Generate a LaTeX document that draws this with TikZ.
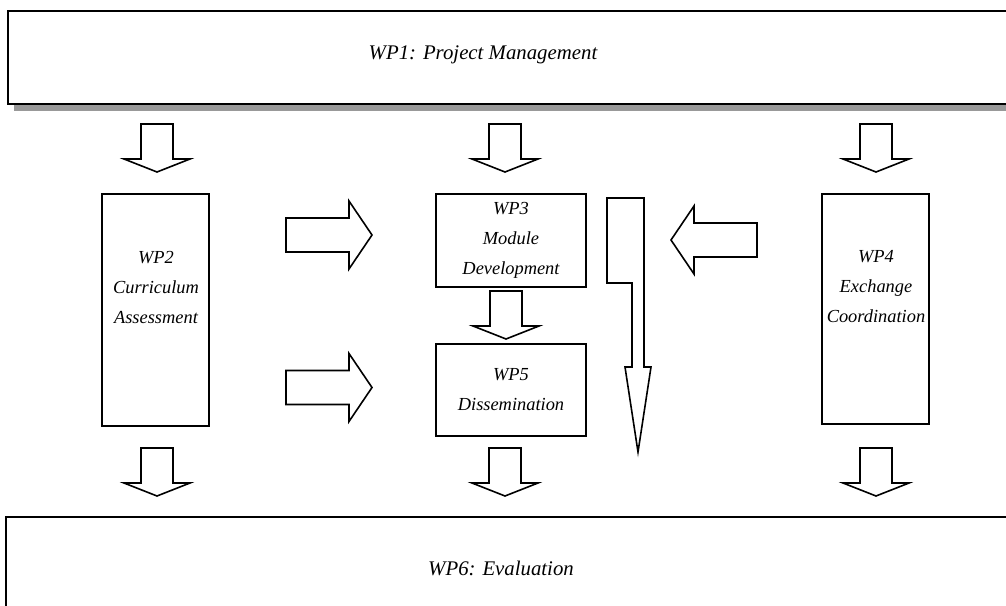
\documentclass[tikz,border=0pt]{standalone}
\usepackage{fontspec}
\setmainfont{Liberation Serif}
\tikzset{
  wpbox/.style={draw, line width=0.8pt, fill=white, inner sep=0pt},
  wptext/.style={font=\fontsize{9.2}{15}\selectfont\itshape, align=center, inner sep=0pt},
  bigtext/.style={font=\fontsize{10.4}{12}\selectfont\itshape, inner sep=0pt},
  blk/.style={draw, line width=0.8pt, line join=miter, fill=white},
  downblk/.pic={\draw[blk] (-16,0) -- (16,0) -- (16,35) -- (33,35) -- (0,48) -- (-33,35) -- (-16,35) -- cycle;},
  rightblk/.pic={\draw[blk] (0,-17) -- (63,-17) -- (63,-34) -- (86,0) -- (63,34) -- (63,17) -- (0,17) -- cycle;}
}
\begin{document}
\begin{tikzpicture}[x=0.5pt, y=-0.5pt]
\useasboundingbox (0,0) rectangle (1006,605);
% top and bottom work packages
\fill[black!40] (14,18) rectangle (1020,111);
\node[wpbox, minimum width=503pt, minimum height=46.5pt] (wp1) at (511,57.5) {};
\node[bigtext] (wp1t) at (483,55) {WP1: Project Management};
\node[wpbox, minimum width=503pt, minimum height=50pt] (wp6) at (509,567) {};
\node[bigtext] (wp6t) at (501,568) {WP6: Evaluation};
% middle work packages
\node[wpbox, minimum width=53.5pt, minimum height=116pt] (wp2) at (155.5,310) {};
\node[wptext] (wp2t) at (156,287) {WP2\\Curriculum\\Assessment};
\node[wpbox, minimum width=53.5pt, minimum height=115pt] (wp4) at (875.5,309) {};
\node[wptext] (wp4t) at (876,287) {WP4\\Exchange\\Coordination};
\node[wpbox, minimum width=75pt, minimum height=46.5pt, wptext] (wp3) at (511,240.5) {WP3\\Module\\Development};
\node[wpbox, minimum width=75pt, minimum height=46pt, wptext] (wp5) at (511,390) {WP5\\Dissemination};
% block arrows
\foreach \x in {157,505,876} {
  \pic at (\x,124) {downblk};
  \pic at (\x,448) {downblk};
}
\pic at (506,291) {downblk};
\pic at (286,235) {rightblk};
\pic at (286,387.5) {rightblk};
\pic[rotate=180] at (757,240) {rightblk};
\draw[blk] (607,198) -- (644,198) -- (644,367) -- (651,367) -- (638,452) -- (625,367) -- (632,367) -- (632,283) -- (607,283) -- cycle;
\end{tikzpicture}
\end{document}
